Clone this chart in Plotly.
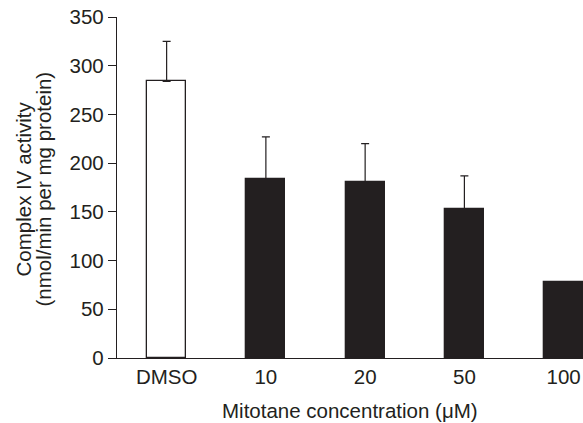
import plotly.graph_objects as go

categories = ["DMSO", "10", "20", "50", "100"]
values = [284, 184, 181, 153, 78]
errors_upper = [41, 43, 39, 34, 0]
fill_colors = ["white", "#231f20", "#231f20", "#231f20", "#231f20"]
x_title = "Mitotane concentration (μM)"
y_title_lines = ["Complex IV activity", "(nmol/min per mg protein)"]

ink = "#231f20"
font_family = "Liberation Sans, Arial, Helvetica, sans-serif"
fs = 20.5

fig = go.Figure()
fig.add_trace(go.Bar(
    x=list(range(len(categories))),
    y=values,
    width=0.393,
    marker=dict(color=fill_colors, line=dict(color=ink, width=1.3)),
    error_y=dict(type="data", array=errors_upper, symmetric=False,
                 arrayminus=[0] * len(values), color=ink, thickness=1.2, width=4),
    showlegend=False,
    hoverinfo="skip",
))

fig.update_layout(
    width=583, height=423,
    margin=dict(l=117, r=0, t=17, b=65),
    paper_bgcolor="white", plot_bgcolor="white",
    font=dict(family=font_family, size=fs, color=ink),
    bargap=0,
)
fig.update_xaxes(
    range=[-0.5, 4.195], automargin=False,
    tickmode="array", tickvals=list(range(len(categories))), ticktext=categories,
    tickfont=dict(size=fs, color=ink), ticklabeloverflow="allow",
    showline=True, linecolor=ink, linewidth=1.3, ticks="", showgrid=False,
    zeroline=False,
)
fig.update_yaxes(
    range=[0, 350], tickvals=[0, 50, 100, 150, 200, 250, 300, 350],
    automargin=False, tickfont=dict(size=fs, color=ink),
    showline=True, linecolor=ink, linewidth=1.3, ticks="outside", ticklen=8,
    tickcolor=ink, tickwidth=1.3, showgrid=False, zeroline=False,
)

fig.add_annotation(text=x_title, xref="paper", yref="paper", x=0.5, y=0,
                   xanchor="center", yanchor="middle", yshift=-52,
                   showarrow=False, font=dict(size=fs, color=ink))
for i, line in enumerate(y_title_lines):
    fig.add_annotation(text=line, xref="paper", yref="paper", x=0, y=0.5,
                       xanchor="center", yanchor="middle", textangle=-90,
                       xshift=-94 + 20 * i, yshift=-2, showarrow=False,
                       font=dict(size=fs, color=ink))

fig.write_html("out.html", config={"displayModeBar": False},
               post_script="document.body.style.margin='0';")
